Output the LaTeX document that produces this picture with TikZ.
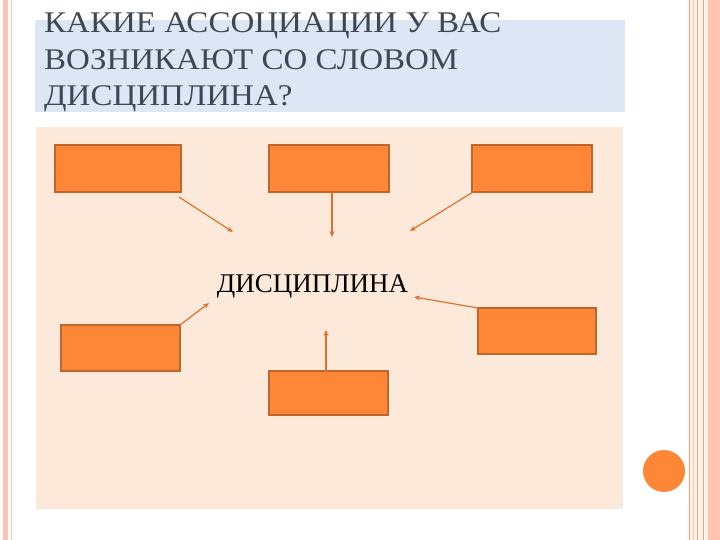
\documentclass[tikz,border=0pt]{standalone}
\usepackage{fontspec}
\setmainfont{LiberationSerif}[Extension=.ttf, UprightFont=*-Regular, BoldFont=*-Bold]
\usetikzlibrary{arrows.meta}
\definecolor{titlebg}{HTML}{DCE6F4}
\definecolor{peach}{HTML}{FDE9DA}
\definecolor{boxfill}{HTML}{FD8736}
\definecolor{boxline}{HTML}{C0652B}
\definecolor{arrowcol}{HTML}{D9722E}
\definecolor{stripe}{HTML}{FBC4AE}
\definecolor{stripeline}{HTML}{F3A385}
\definecolor{cream}{HTML}{FEF3E6}
\definecolor{titletext}{HTML}{3F4752}
\tikzset{
  obox/.style={draw=boxline, line width=1.3pt, fill=boxfill},
  conn/.style={draw=arrowcol, line width=1.2pt, -{Stealth[length=6pt,width=5pt]}},
  titleline/.style={anchor=base west, inner sep=0pt, text=titletext, font=\fontsize{30}{36.5}\selectfont},
}
\newcommand{\wideline}[1]{\scalebox{1.1}[1]{#1}}
\begin{document}
\begin{tikzpicture}[x=1pt,y=-1pt]
\useasboundingbox (0,0) rectangle (720,540);
\fill[white] (0,0) rectangle (720,540);
% left border
\fill[stripe] (3,0) rectangle (8,540);
\draw[stripe, line width=1pt] (11.5,0) -- (11.5,540);
% right border
\fill[cream] (690,0) rectangle (708,540);
\draw[stripeline, line width=0.8pt] (689.5,0) -- (689.5,540);
\draw[stripe, line width=1.5pt] (693.5,0) -- (693.5,540);
\draw[stripeline, line width=1pt] (697.5,0) -- (697.5,540);
\draw[stripeline, line width=1pt] (703,0) -- (703,540);
\fill[stripe] (708,0) rectangle (720,540);
% title
\fill[titlebg] (35,20) rectangle (625,112);
\node[titleline] (title1) at (44,33) {\wideline{КАКИЕ АССОЦИАЦИИ У ВАС}};
\node[titleline] (title2) at (44,69.5) {\wideline{ВОЗНИКАЮТ СО СЛОВОМ}};
\node[titleline] (title3) at (44,106) {\wideline{ДИСЦИПЛИНА?}};
% content area
\fill[peach] (36,127) rectangle (623,509);
% boxes
\path[obox] (55,145) rectangle (181,192);
\path[obox] (269,145) rectangle (389,192);
\path[obox] (472,145) rectangle (592,192);
\path[obox] (61,325) rectangle (180,371);
\path[obox] (269,371) rectangle (388,415);
\path[obox] (478,308) rectangle (596,354);
\node[inner sep=0pt, anchor=base, font=\fontsize{27}{30}\selectfont] (center) at (312.5,292) {ДИСЦИПЛИНА};
% connectors
\coordinate (a1s) at (179,197); \coordinate (a1e) at (233,232);
\coordinate (a2s) at (332,192); \coordinate (a2e) at (332,237);
\coordinate (a3s) at (473,192); \coordinate (a3e) at (410,231);
\coordinate (a4s) at (180,325); \coordinate (a4e) at (209,303);
\coordinate (a5s) at (326,372); \coordinate (a5e) at (326,330);
\coordinate (a6s) at (478,308); \coordinate (a6e) at (414,297);
\draw[conn] (a1s) -- (a1e);
\draw[conn] (a2s) -- (a2e);
\draw[conn] (a3s) -- (a3e);
\draw[conn] (a4s) -- (a4e);
\draw[conn] (a5s) -- (a5e);
\draw[conn] (a6s) -- (a6e);
% orange circle
\fill[boxfill] (664,471) circle (21);
\end{tikzpicture}
\end{document}
